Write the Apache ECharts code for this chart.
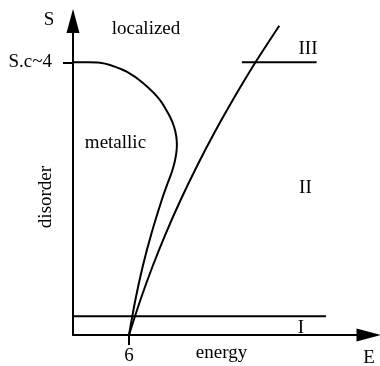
<!DOCTYPE html>
<html>
<head>
<meta charset="utf-8">
<script src="https://cdn.jsdelivr.net/npm/echarts@6/dist/echarts.min.js"></script>
<style>
html, body { margin: 0; padding: 0; background: #fff; }
#chart { width: 380px; height: 366px; }
</style>
</head>
<body>
<div id="chart"></div>
<script>
// [E, S] points
const metallicEdge = [
  [0, 4.0], [1.61, 4.0], [2.89, 3.993], [3.96, 3.96], [5.75, 3.862],
  [7.53, 3.692], [9.32, 3.447], [10.39, 3.202], [10.82, 3.058], [11.06, 2.919],
  [11.13, 2.787], [11.07, 2.67], [10.89, 2.537], [10.59, 2.391], [10.15, 2.23],
  [9.51, 1.98], [8.42, 1.496], [7.48, 1.012], [6.68, 0.513], [6, 0]
];
const mobilityEdge = [
  [6, 0], [7.22, 0.513], [8.54, 1.012], [9.96, 1.496], [11.53, 1.98],
  [13.29, 2.479], [15.13, 2.963], [17.12, 3.447], [19.55, 4.0], [22.1, 4.537]
];
const lineI = [[0, 0.274], [27.1, 0.274]];
const lineIII = [[18.1, 4], [26.1, 4]];
const regionNames = ['localized', 'metallic', 'III', 'II', 'I'];
const regionE = [7.82, 4.55, 25.18, 24.9, 24.43];
const regionS = [4.49, 2.82, 4.2, 2.15, 0.1];
const xTicks = [6];
const yTicks = [4];
const yTickText = 'S.c~4';

const font = 'Liberation Serif';
const black = '#000';

const chart = echarts.init(document.getElementById('chart'));

const curve = (data) => ({
  type: 'line',
  data: data,
  smooth: 0.3,
  symbol: 'none',
  silent: true,
  lineStyle: { color: black, width: 2 }
});
const straight = (data) => ({
  type: 'line',
  data: data,
  symbol: 'none',
  silent: true,
  lineStyle: { color: black, width: 2 }
});

const option = {
  animation: false,
  grid: { left: 73, right: 11.5, top: 21, bottom: 31 },
  xAxis: {
    type: 'value',
    min: 0,
    max: 31.66,
    splitLine: { show: false },
    axisLine: {
      lineStyle: { color: black, width: 2 },
      symbol: ['none', 'triangle'],
      symbolSize: [13, 24]
    },
    axisTick: { customValues: xTicks, length: 10, lineStyle: { color: black, width: 2 } },
    axisLabel: {
      customValues: xTicks,
      margin: 12,
      color: black,
      fontFamily: font,
      fontSize: 19
    }
  },
  yAxis: {
    type: 'value',
    min: 0,
    max: 4.606,
    splitLine: { show: false },
    axisLine: {
      lineStyle: { color: black, width: 2 },
      symbol: ['none', 'triangle'],
      symbolSize: [13, 24]
    },
    axisTick: { customValues: yTicks, length: 10, lineStyle: { color: black, width: 2 } },
    axisLabel: {
      customValues: yTicks,
      formatter: () => yTickText,
      margin: 21,
      color: black,
      fontFamily: font,
      fontSize: 19
    }
  },
  graphic: [
    { type: 'text', x: 49, y: 20.5, style: { text: 'S', font: '19px ' + font, fill: black, align: 'center', verticalAlign: 'middle' } },
    { type: 'text', x: 46.5, y: 197, rotation: Math.PI / 2, style: { text: 'disorder', font: '19px ' + font, fill: black, align: 'center', verticalAlign: 'middle' } },
    { type: 'text', x: 221.5, y: 353.5, style: { text: 'energy', font: '19px ' + font, fill: black, align: 'center', verticalAlign: 'middle' } },
    { type: 'text', x: 369, y: 358.5, style: { text: 'E', font: '19px ' + font, fill: black, align: 'center', verticalAlign: 'middle' } }
  ],
  series: [
    curve(metallicEdge),
    curve(mobilityEdge),
    straight(lineI),
    straight(lineIII),
    {
      type: 'scatter',
      symbolSize: 0,
      silent: true,
      itemStyle: { opacity: 1, color: 'transparent' },
      data: regionNames.map((n, i) => ({ name: n, value: [regionE[i], regionS[i]] })),
      label: {
        show: true,
        position: 'inside',
        formatter: '{b}',
        color: black,
        opacity: 1,
        textBorderWidth: 0,
        fontFamily: font,
        fontSize: 19
      }
    }
  ]
};
chart.setOption(option);
</script>
</body>
</html>
